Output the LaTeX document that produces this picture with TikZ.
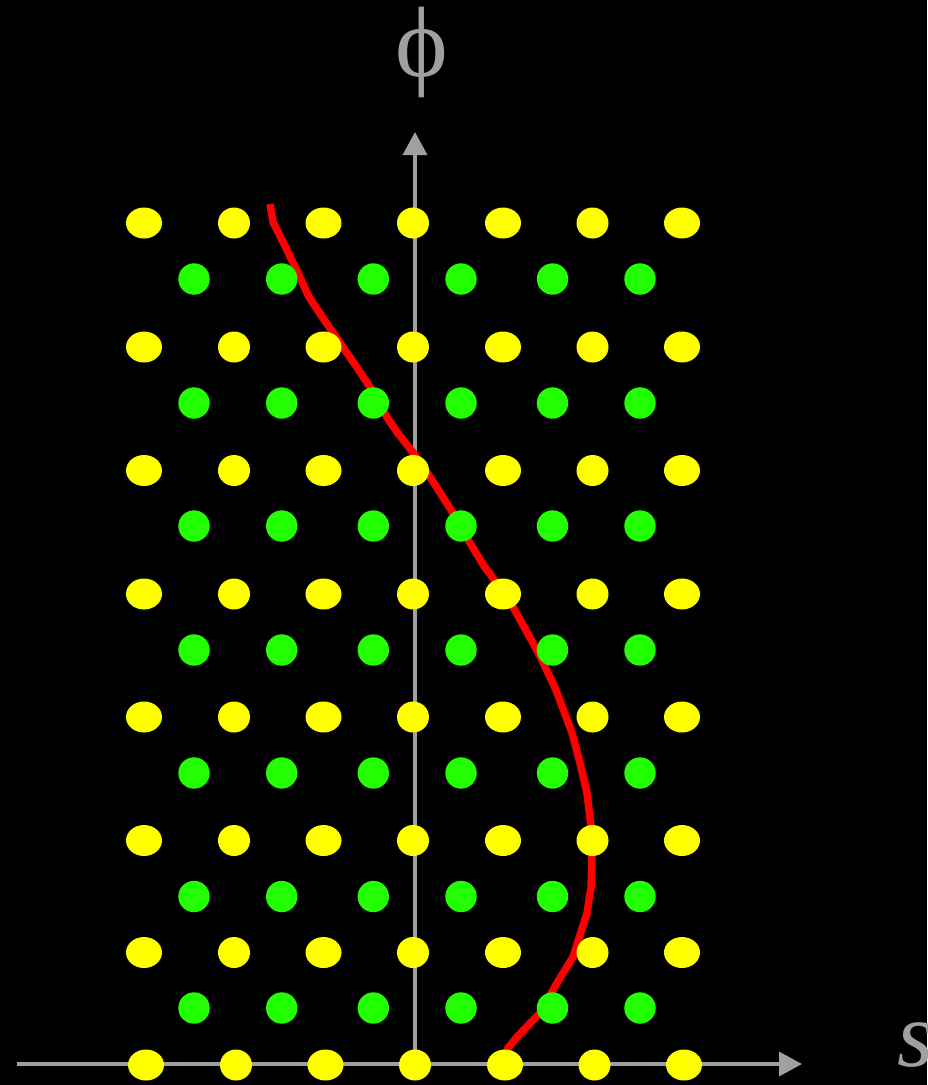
\documentclass[tikz,border=0pt]{standalone}
\usepackage{fontspec}
\setmainfont{Liberation Serif}
\usepackage{xcolor}
\usetikzlibrary{arrows.meta, positioning, calc}

\definecolor{axisgray}{HTML}{A0A0A0}
\definecolor{dotyellow}{HTML}{FFFF00}
\definecolor{dotgreen}{HTML}{22FF00}

\begin{document}
\begin{tikzpicture}[x=1pt, y=-1pt,
    axis/.style={axisgray, line width=3.5pt, -{Triangle[length=23pt, width=24pt]}},
    curve/.style={red, line width=7.5pt},
    yellowdot/.style={fill=dotyellow},
    greendot/.style={fill=dotgreen}]
    % Background and size
    \fill[black] (0,0) rectangle (927,1085);
    \useasboundingbox (0,0) rectangle (927,1085);

    % Axes
    \coordinate (O) at (415,1064);
    \coordinate (xstart) at (17,1064);
    \coordinate (xend) at (802,1064);
    \coordinate (ytip) at (415,132);
    \draw[axis] (xstart) -- (xend);
    \draw[axis] (O) -- (ytip);

    % Labels
    \node[axisgray, inner sep=0, font=\fontsize{100}{100}\selectfont] (philabel) at (422,52) {ϕ};
    \node[axisgray, inner sep=0, anchor=base, font=\fontsize{93}{93}\selectfont\itshape] (slabel) at (916,1066) {s};

    % Red curve
    \draw[curve] (270,204) -- (273,222) -- (285,246) -- (297,271) -- (309,297)
        -- (325,321) -- (340,343) -- (356,366) -- (372,390) -- (388,419)
        -- (397,432) -- (415,455) -- (432,480) -- (453,513) -- (470,543)
        -- (484,566) -- (498,585) -- (513,607) -- (533,643) -- (540,656)
        -- (556,690) -- (572,733) -- (580,763) -- (587,793) -- (591,827)
        -- (592,860) -- (591,887) -- (587,913) -- (573,957) -- (557,983)
        -- (540,1013) -- (517,1037) -- (508,1048) -- (504,1058);

    % Yellow dots (wide and narrow columns alternate)
    \foreach \y in {223,347,470.5,594,717,840.5,952.5} {
        \foreach \x/\rx in {144/18,234/16,323.5/18,413/16,503/18,592.5/16,682/18}
            \fill[yellowdot] (\x,\y) ellipse ({\rx pt} and 15.5pt);
    }
    \foreach \x/\rx in {146/18,236/16,325.5/18,415/16,505/18,594.5/16,684/18}
        \fill[yellowdot] (\x,1065) ellipse ({\rx pt} and 15.5pt);

    % Green dots
    \foreach \y in {279,403,526,650,773,896.5,1008} {
        \foreach \x in {194,281.7,373.3,461,552.5,640}
            \fill[greendot] (\x,\y) circle (15.7pt);
    }
\end{tikzpicture}
\end{document}
